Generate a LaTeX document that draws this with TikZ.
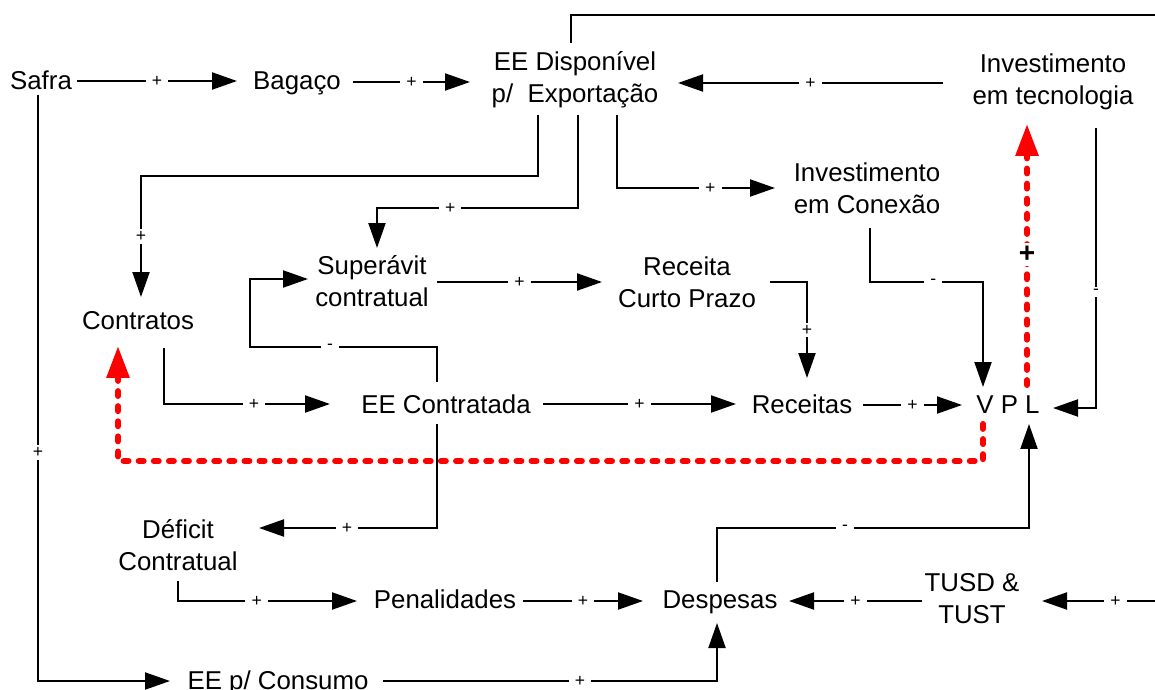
\documentclass[tikz,border=0pt]{standalone}
\usepackage{fontspec}
\setmainfont{Liberation Sans}
\usetikzlibrary{arrows.meta,calc}
\newcommand\varfont{\fontsize{14.7}{18.4}\selectfont}
\newcommand\signfont{\fontsize{10}{12}\selectfont}
\tikzset{
  var/.style={font=\varfont, align=center, inner sep=0pt,
    execute at begin node=\strut, execute at end node=\strut},
  ln/.style={line width=1.2pt},
  lnk/.style={ln, -{Triangle[length=0.5cm,width=0.34cm]}},
  fb/.style={draw=red, line width=3.4pt, line cap=round,
    dash pattern=on 2.8pt off 5.8pt, -{Triangle[length=0.64cm,width=0.44cm]}},
  sg/.style={font=\signfont, fill=white, inner xsep=3.5pt, inner ysep=1.2pt},
  sgb/.style={font=\fontsize{16}{18}\selectfont\bfseries, fill=white, inner sep=2pt},
}
\begin{document}
\begin{tikzpicture}[x=0.02cm, y=-0.02cm]
\useasboundingbox (0,0) rectangle (1155,689);

% variables
\node[var] (safra)     at (41,83)    {Safra};
\node[var] (bagaco)    at (297,83)   {Bagaço};
\node[var] (eedisp)    at (575,82)   {EE Disponível\\p/\ \ Exportação};
\node[var] (invtec)    at (1053,84)  {Investimento\\em tecnologia};
\node[var] (invcon)    at (867,193)  {Investimento\\em Conexão};
\node[var] (super)     at (372,286)  {Superávit\\contratual};
\node[var] (rcp)       at (687,287)  {Receita\\Curto Prazo};
\node[var] (contratos) at (138,323)  {Contratos};
\node[var] (eecont)    at (446,407)  {EE Contratada};
\node[var] (receitas)  at (802,407)  {Receitas};
\node[var] (vpl)       at (1008,407) {V P L};
\node[var] (deficit)   at (178,550)  {Déficit\\Contratual};
\node[var] (penal)     at (445,602)  {Penalidades};
\node[var] (despesas)  at (720,602)  {Despesas};
\node[var] (tusd)      at (972,603)  {TUSD \&\\TUST};
\node[var] (eecons)    at (278,683)  {EE p/ Consumo};

% loose ends at the right border
\coordinate (eR1) at (1155,15);
\coordinate (eR2) at (1155,601);

% causal links
\draw[lnk] ($(safra)+(36,-2)$) -- node[sg] (s1) {+} ($(bagaco)+(-60,-2)$);
\draw[lnk] ($(bagaco)+(56,-1)$) -- node[sg] (s2) {+} ($(eedisp)+(-105,0)$);
\draw[lnk] ($(invtec)+(-110,-1)$) -- node[sg] (s3) {+} ($(eedisp)+(103,1)$);
\draw[ln]  ($(eedisp)+(-4,-39)$) |- (eR1);
\draw[lnk] ($(invtec)+(43,44)$) |- node[sg,pos=0.293] (s5) {-} ($(vpl)+(45,1)$);
\draw[lnk] ($(eedisp)+(-37,33)$) -- ++(0,61) -| node[sg,pos=0.75] (s6) {+} ($(contratos)+(3,-26)$);
\draw[lnk] ($(eedisp)+(3,33)$) -- ++(0,93) -| node[sg,pos=0.318] (s7) {+} ($(super)+(5,-38)$);
\draw[lnk] ($(eedisp)+(42,33)$) |- node[sg,pos=0.795] (s8) {+} ($(invcon)+(-92,-5)$);
\draw[lnk] ($(invcon)+(3,35)$) -- ++(0,54) -| node[sg,pos=0.28] (s9) {-} ($(vpl)+(-25,-20)$);
\draw[lnk] ($(super)+(65,-4)$) -- node[sg] (s10) {+} ($(rcp)+(-85,-5)$);
\draw[lnk] ($(rcp)+(83,-5)$) -| node[sg,pos=0.75] (s11) {+} ($(receitas)+(5,-29)$);
\draw[lnk] ($(eecont)+(-9,-25)$) |- node[sg,pos=0.786] (s12) {-} (250,347) |- ($(super)+(-64,-7)$);
\draw[lnk] ($(contratos)+(26,25)$) |- node[sg,pos=0.771] (s13) {+} ($(eecont)+(-116,-3)$);
\draw[lnk] ($(eecont)+(97,-3)$) -- node[sg] (s14) {+} ($(receitas)+(-66,-3)$);
\draw[lnk] ($(receitas)+(61,-2)$) -- node[sg] (s15) {+} ($(vpl)+(-46,-2)$);
\draw[lnk] ($(eecont)+(-9,17)$) |- node[sg,pos=0.753] (s16) {+} ($(deficit)+(81,-22)$);
\draw[lnk] ($(deficit)+(0,31)$) |- node[sg,pos=0.72] (s17) {+} ($(penal)+(-88,-1)$);
\draw[lnk] ($(penal)+(78,-1)$) -- node[sg] (s18) {+} ($(despesas)+(-77,-1)$);
\draw[lnk] ($(tusd)+(-50,-2)$) -- node[sg] (s19) {+} ($(despesas)+(69,-1)$);
\draw[lnk] (eR2) -- node[sg,pos=0.35] (s20) {+} ($(tusd)+(70,-2)$);
\draw[lnk] ($(safra)+(-3,12)$) |- node[sg,pos=0.305] (s21) {+} ($(eecons)+(-108,-2)$);
\draw[lnk] ($(eecons)+(105,-2)$) -| node[sg,pos=0.295] (s22) {+} ($(despesas)+(-3,21)$);
\draw[lnk] ($(despesas)+(-3,-20)$) -- ++(0,-54) -| node[sg,pos=0.205] (s23) {-} ($(vpl)+(21,17)$);

% feedback paths
\draw[fb] ($(vpl)+(-25,17)$) -- ++(0,37) -| ($(contratos)+(-20,23)$);
\draw[fb] ($(vpl)+(19,-22)$) -- node[sgb] (s24) {+} ($(invtec)+(-26,40)$);
\end{tikzpicture}
\end{document}
